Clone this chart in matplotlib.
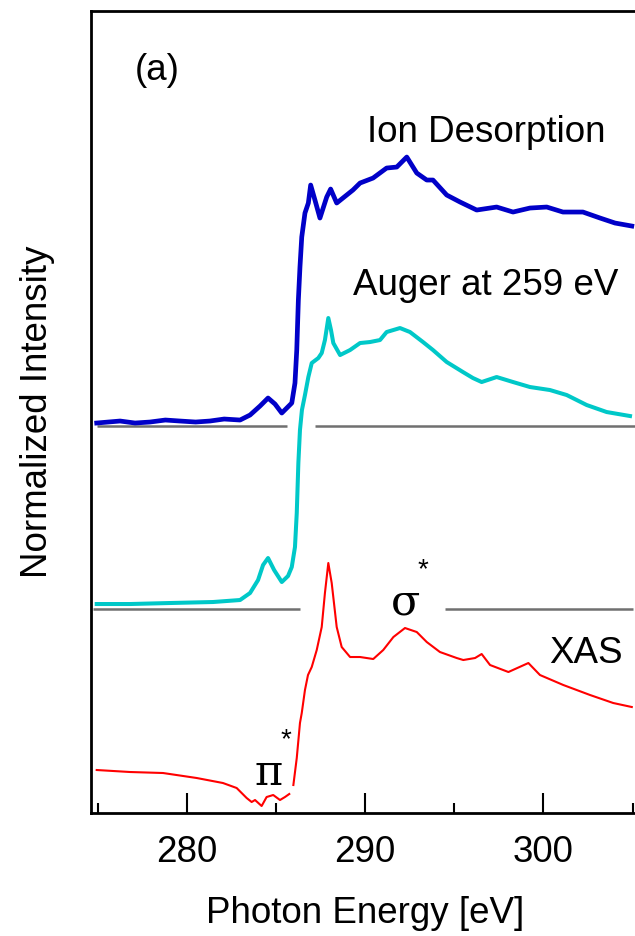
import numpy as np
import matplotlib
matplotlib.use("Agg")
import matplotlib.pyplot as plt

plt.rcParams["font.family"] = ["Liberation Sans", "DejaVu Sans"]

# Ion desorption (offset trace, top)
ion_ev = [274.95, 275.60, 276.26, 277.10, 277.94, 278.80, 279.62, 280.50, 281.30, 282.10,
          282.99, 283.55, 284.11, 284.56, 284.95,
          285.33, 285.89, 286.07, 286.17, 286.26, 286.35, 286.45, 286.63, 286.82, 286.95,
          287.19, 287.47, 287.85, 288.07, 288.41, 288.76, 289.32, 289.72, 290.45, 291.21,
          291.78, 292.34, 292.90, 293.46, 293.81, 294.58, 295.33, 296.26, 297.38, 298.30,
          299.25, 300.19, 301.10, 302.22, 303.18, 304.02, 304.96]
ion_int = [3.90, 3.91, 3.92, 3.90, 3.91, 3.93, 3.92, 3.91, 3.92, 3.94,
           3.93, 3.98, 4.07, 4.15, 4.09,
           4.00, 4.10, 4.30, 4.63, 5.13, 5.46, 5.76, 6.00, 6.10, 6.28,
           6.13, 5.95, 6.16, 6.24, 6.10, 6.15, 6.23, 6.30, 6.35, 6.45,
           6.46, 6.56, 6.40, 6.33, 6.33, 6.18, 6.11, 6.03, 6.06, 6.01,
           6.05, 6.06, 6.01, 6.01, 5.95, 5.90, 5.87]

# Auger yield at 259 eV (offset trace, middle)
auger_ev = [274.95, 276.82, 279.06, 281.47, 282.99, 283.55, 284.00, 284.28, 284.56, 284.90,
            285.33, 285.68, 285.89, 286.07, 286.17, 286.26, 286.35, 286.46, 286.63, 286.82,
            287.01, 287.38, 287.57, 287.75, 287.94, 288.09, 288.22, 288.60, 289.16, 289.72,
            290.28, 290.84, 291.21, 291.96, 292.52, 293.25, 293.81, 294.58, 295.49, 296.05,
            296.54, 297.38, 298.30, 299.25, 300.37, 301.31, 302.43, 303.55, 304.86]
auger_int = [2.09, 2.09, 2.10, 2.11, 2.13, 2.20, 2.33, 2.48, 2.55, 2.43,
             2.31, 2.37, 2.46, 2.66, 3.00, 3.50, 3.83, 4.03, 4.18, 4.36,
             4.50, 4.55, 4.60, 4.73, 4.95, 4.83, 4.70, 4.58, 4.63, 4.70,
             4.71, 4.73, 4.81, 4.85, 4.81, 4.71, 4.63, 4.51, 4.41, 4.35,
             4.31, 4.36, 4.31, 4.26, 4.23, 4.18, 4.08, 4.01, 3.97]

# XAS (bottom), small break in the data just below the edge
xas_ev = [274.95, 276.82, 278.67, 280.56, 282.03, 282.80, 283.36, 283.64, 283.83, 284.20,
          284.48, 284.85, 285.23, 285.51, 285.75, np.nan,
          285.98, 286.17, 286.35, 286.45, 286.63, 286.80, 287.01, 287.29, 287.57, 287.75,
          287.94, 288.13, 288.41, 288.69, 289.16, 289.72, 290.46, 291.02, 291.59, 292.24,
          292.90, 293.46, 294.20, 295.14, 295.51, 296.17, 296.54, 297.01, 298.04, 299.16,
          299.81, 301.12, 302.62, 303.92, 304.96]
xas_int = [0.43, 0.41, 0.40, 0.35, 0.30, 0.25, 0.15, 0.11, 0.13, 0.07,
           0.16, 0.18, 0.13, 0.16, 0.19, np.nan,
           0.28, 0.55, 0.90, 1.00, 1.23, 1.38, 1.46, 1.63, 1.86, 2.20,
           2.50, 2.30, 1.86, 1.66, 1.56, 1.56, 1.54, 1.63, 1.76, 1.85,
           1.81, 1.71, 1.61, 1.55, 1.53, 1.55, 1.59, 1.48, 1.41, 1.50,
           1.38, 1.28, 1.18, 1.10, 1.06]

# zero lines of the offset traces (broken where curves / labels cross)
base_level = [3.87, 3.87, 2.04, 2.04]
base_start = [274.95, 287.19, 274.73, 294.48]
base_end = [285.60, 305.14, 286.35, 305.00]

fig = plt.figure(figsize=(6.35, 9.36), dpi=100)
ax = fig.add_axes([0.1433, 0.1314, 0.8567, 0.8568])

ax.hlines(base_level, base_start, base_end, color="#707070", linewidth=1.8, zorder=1)

ax.plot(ion_ev, ion_int, color="#0000C8", linewidth=3.4, zorder=3)
ax.plot(auger_ev, auger_int, color="#00C8C8", linewidth=2.9, zorder=3)
ax.plot(xas_ev, xas_int, color="#FF0000", linewidth=1.5, zorder=3)

fs = 26.5
ax.text(277.1, 7.43, "(a)", fontsize=fs, ha="left", va="center")
ax.text(290.09, 6.71, "Ion Desorption", fontsize=fs, ha="left", va="baseline")
ax.text(289.31, 5.18, "Auger at 259 eV", fontsize=fs, ha="left", va="baseline")
ax.text(300.33, 1.50, "XAS", fontsize=fs, ha="left", va="baseline")

# orbital labels, the star sits up and to the right of the letter
ax.text(291.45, 1.99, "σ", fontsize=31, family="DejaVu Serif", ha="left", va="baseline")
ax.text(292.95, 2.30, "*", fontsize=20, ha="left", va="bottom")
ax.text(283.80, 0.28, "π", fontsize=31, family="DejaVu Serif", ha="left", va="baseline")
ax.text(285.25, 0.60, "*", fontsize=20, ha="left", va="bottom")

ax.set_xlim(274.63, 305.14)
ax.set_ylim(0, 8.02)

ax.set_xticks([280, 290, 300])
ax.set_xticks([275, 285, 295, 305], minor=True)
ax.set_yticks([])
ax.tick_params(axis="x", which="major", direction="in", length=14.4, width=1.5,
               labelsize=fs, pad=16)
ax.tick_params(axis="x", which="minor", direction="in", length=7.2, width=1.5)

for side in ("left", "top", "bottom"):
    ax.spines[side].set_linewidth(2)
ax.spines["right"].set_visible(False)

ax.set_xlabel("Photon Energy [eV]", fontsize=fs)
ax.set_ylabel("Normalized Intensity", fontsize=fs)
ax.xaxis.set_label_coords(0.504, -0.104)
ax.yaxis.set_label_coords(-0.067, 0.5)

fig.savefig("out.png", dpi=100)
